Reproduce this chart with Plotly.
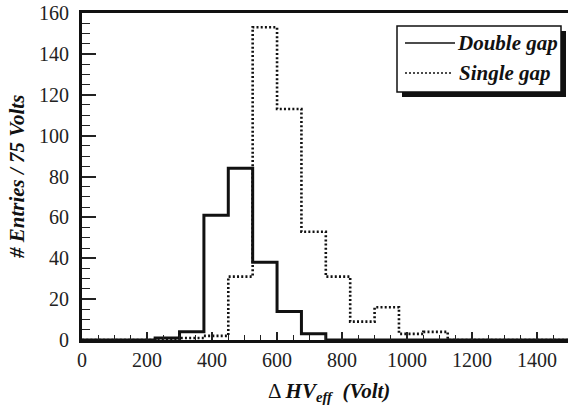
import plotly.graph_objects as go

# ---- data ----
bin_width = 75
bin_start = 0
double_gap = [0, 0, 0, 1, 4, 61, 84, 38, 14, 3, 0, 0, 0, 0, 0, 0, 0, 0, 0, 0]
single_gap = [0, 0, 0, 0, 1, 2, 31, 153, 113, 53, 31, 9, 16, 3, 4, 0, 0, 0, 0, 0]
x_ticks = [0, 200, 400, 600, 800, 1000, 1200, 1400]
y_ticks = [0, 20, 40, 60, 80, 100, 120, 140, 160]

W, H = 568, 408
L, R, T, B = 82, 0, 13, 68
XMAX = 1495
FONT = "Liberation Serif"


def steps(counts):
    edges = [bin_start + i * bin_width for i in range(len(counts) + 1)]
    return edges, counts + [counts[-1]]


fig = go.Figure()
xe, ye = steps(double_gap)
fig.add_trace(go.Scatter(x=xe, y=ye, mode="lines", line_shape="hv",
                         line=dict(color="#111", width=3), name="Double gap",
                         showlegend=False))
xe, ye = steps(single_gap)
fig.add_trace(go.Scatter(x=xe, y=ye, mode="lines", line_shape="hv",
                         line=dict(color="#111", width=2.6, dash="2px,2.2px"),
                         name="Single gap", showlegend=False))

pw, ph = W - L - R, H - T - B


def px(x):
    return (x - L) / pw


def py(y):
    return (H - B - y) / ph


shapes = []
shapes.append(dict(type="rect", xref="paper", yref="paper", x0=px(402), x1=px(566),
                   y0=py(97), y1=py(31), fillcolor="#111", line=dict(width=0), layer="above"))
shapes.append(dict(type="rect", xref="paper", yref="paper", x0=px(397), x1=px(561),
                   y0=py(92), y1=py(26), fillcolor="white", line=dict(color="#111", width=1.5),
                   layer="above"))
shapes.append(dict(type="line", xref="paper", yref="paper", x0=px(405), x1=px(455),
                   y0=py(43), y1=py(43), line=dict(color="#111", width=1.5), layer="above"))
shapes.append(dict(type="line", xref="paper", yref="paper", x0=px(405), x1=px(453),
                   y0=py(73), y1=py(73), line=dict(color="#111", width=1.5, dash="2px,2px"),
                   layer="above"))

annotations = [
    dict(text="<b><i>Double gap</i></b>", xref="paper", yref="paper", x=px(455), y=py(43),
         xanchor="left", yanchor="middle", showarrow=False,
         font=dict(family=FONT, size=21, color="#111")),
    dict(text="<b><i>Single gap</i></b>", xref="paper", yref="paper", x=px(457), y=py(73),
         xanchor="left", yanchor="middle", showarrow=False,
         font=dict(family=FONT, size=21, color="#111")),
    dict(text="Δ <b><i>HV<sub>eff</sub>  (Volt)</i></b>", xref="paper", yref="paper",
         x=px(329), y=py(392), xanchor="center", yanchor="middle", showarrow=False,
         font=dict(family=FONT, size=21, color="#111")),
    dict(text="<b><i># Entries / 75 Volts</i></b>", xref="paper", yref="paper",
         x=px(17), y=py(177), xanchor="center", yanchor="middle", textangle=-90,
         showarrow=False, font=dict(family=FONT, size=21, color="#111")),
]

fig.update_layout(
    width=W, height=H, margin=dict(l=L, r=R, t=T, b=B),
    paper_bgcolor="white", plot_bgcolor="white",
    font=dict(family=FONT, size=20, color="#222"),
    shapes=shapes, annotations=annotations, showlegend=False,
)
fig.update_xaxes(range=[0, XMAX], tickvals=x_ticks, ticks="inside", ticklen=8,
                 tickwidth=1.5, tickcolor="#222", showline=True, linewidth=3,
                 linecolor="#111", mirror=True, showgrid=False, zeroline=False,
                 minor=dict(dtick=50, ticks="inside", ticklen=5, tickwidth=1.2,
                            tickcolor="#222", showgrid=False),
                 tickfont=dict(family=FONT, size=20, color="#222"))
fig.update_yaxes(range=[0, 160], tickvals=y_ticks, ticks="inside", ticklen=14,
                 tickwidth=1.5, tickcolor="#222", showline=True, linewidth=3,
                 linecolor="#111", showgrid=False, zeroline=False,
                 minor=dict(dtick=5, ticks="inside", ticklen=8, tickwidth=1.2,
                            tickcolor="#222", showgrid=False),
                 ticklabelstandoff=6,
                 tickfont=dict(family=FONT, size=20, color="#222"))

fig.write_html("out.html")
